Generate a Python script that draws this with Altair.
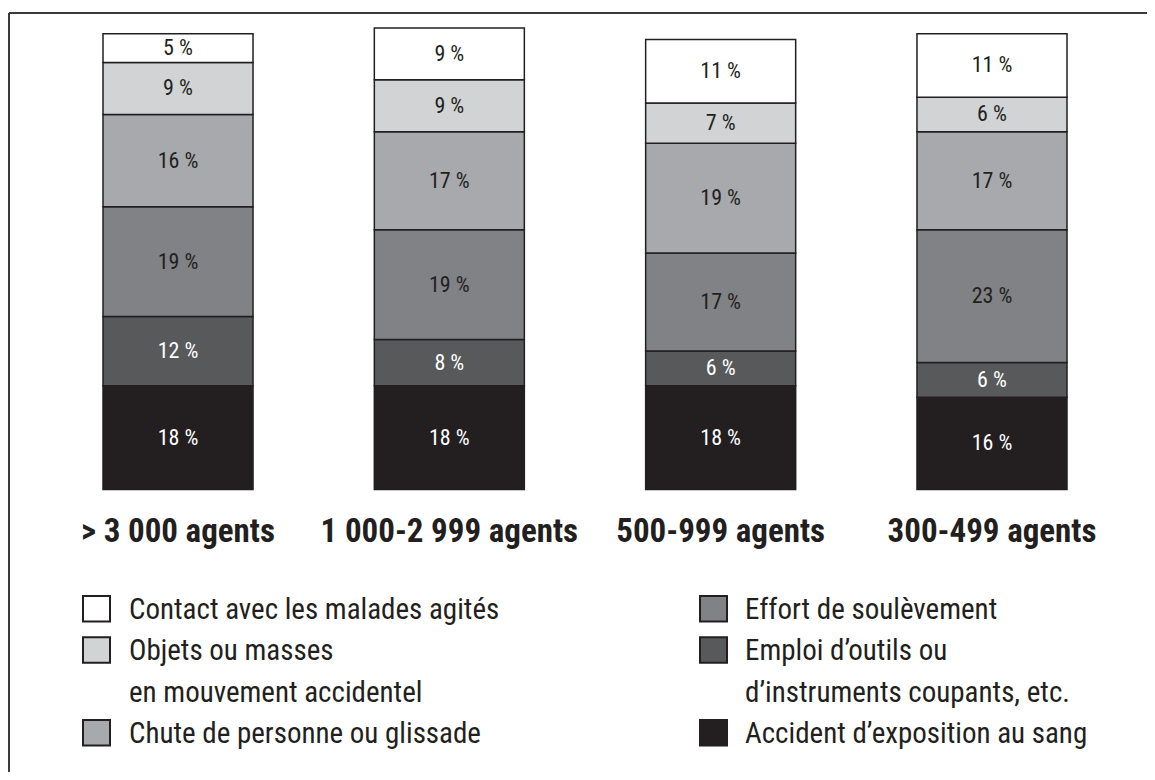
import altair as alt
import pandas as pd

# ---- data ----
sizes = ["> 3 000 agents", "1 000-2 999 agents", "500-999 agents", "300-499 agents"]

# causes, from bottom of the stack to the top
causes = [
    "Accident d’exposition au sang",
    "Emploi d’outils ou\nd’instruments coupants, etc.",
    "Effort de soulèvement",
    "Chute de personne ou glissade",
    "Objets ou masses\nen mouvement accidentel",
    "Contact avec les malades agités",
]
accident = [18, 18, 18, 16]
emploi = [12, 8, 6, 6]
effort = [19, 19, 17, 23]
chute = [16, 17, 19, 17]
objets = [9, 9, 7, 6]
contact = [5, 9, 11, 11]
series = [accident, emploi, effort, chute, objets, contact]

greys = ["#231f20", "#58595b", "#808285", "#a7a9ac", "#d1d3d4", "#ffffff"]

# legend layout: left column / right column, in reading order
legend_left = [causes[5], causes[4], causes[3]]
legend_right = [causes[2], causes[1], causes[0]]

# ---- tables built from the arrays ----
rows = []
for ci, (c, vals) in enumerate(zip(causes, series)):
    for s, v in zip(sizes, vals):
        rows.append({"size": s, "cause": c, "order": ci, "value": v})
bars_df = pd.DataFrame(rows)

leg_sq, leg_txt = [], []
for col, items in enumerate([legend_left, legend_right]):
    line = 0
    for lab in items:
        leg_sq.append({"cause": lab, "col": col, "line": line})
        for part in lab.split("\n"):
            leg_txt.append({"text": part, "col": col, "line": line})
            line += 1
sq_df = pd.DataFrame(leg_sq)
txt_df = pd.DataFrame(leg_txt)
cat_df = pd.DataFrame({"size": sizes})

FONT = "Liberation Sans Narrow, Roboto Condensed, DejaVu Sans Condensed, Roboto, sans-serif"
INK = "#231f20"

xscale = alt.Scale(domain=sizes, range=[95, 1059], paddingInner=0.4471, paddingOuter=0)
yscale = alt.Scale(domain=[0, 83.45], range=[481.5, 0], nice=False, zero=False)
cscale = alt.Scale(domain=causes, range=greys)

base = alt.Chart(bars_df).transform_stack(
    stack="value", groupby=["size"], as_=["y0", "y1"],
    sort=[alt.SortField("order", order="ascending")]
)

bars = base.mark_bar(stroke=INK, strokeWidth=1.5).encode(
    x=alt.X("size:N", scale=xscale, axis=None),
    y=alt.Y("y0:Q", scale=yscale, axis=None),
    y2="y1:Q",
    color=alt.Color("cause:N", scale=cscale, legend=None),
)

labels = base.transform_calculate(
    ymid="(datum.y0 + datum.y1) / 2",
    lab="datum.value + ' %'",
    tcol="datum.order <= 1 ? 'white' : '" + INK + "'",
).mark_text(font=FONT, fontSize=22, baseline="middle", align="center").encode(
    x=alt.X("size:N", scale=xscale, axis=None),
    y=alt.Y("ymid:Q", scale=yscale, axis=None),
    text="lab:N",
    color=alt.Color("tcol:N", scale=None),
)

cats = alt.Chart(cat_df).mark_text(
    font=FONT, fontSize=33, fontWeight="bold", baseline="alphabetic", align="center", color=INK
).encode(
    x=alt.X("size:N", scale=xscale, axis=None),
    y=alt.value(534),
    text="size:N",
)

squares = alt.Chart(sq_df).transform_calculate(
    sx="datum.col == 0 ? 75 : 692",
    sy="588 + datum.line * 41.3",
).transform_calculate(
    sx2="datum.sx + 27",
    sy2="datum.sy + 25.5",
).mark_rect(stroke=INK, strokeWidth=2).encode(
    x=alt.X("sx:Q", scale=None, axis=None),
    x2="sx2:Q",
    y=alt.Y("sy:Q", scale=None, axis=None),
    y2="sy2:Q",
    color=alt.Color("cause:N", scale=cscale, legend=None),
)

leg_text = alt.Chart(txt_df).transform_calculate(
    tx="datum.col == 0 ? 121 : 737",
    ty="611 + datum.line * 41.3",
).mark_text(font=FONT, fontSize=29, baseline="alphabetic", align="left", color=INK).encode(
    x=alt.X("tx:Q", scale=None, axis=None),
    y=alt.Y("ty:Q", scale=None, axis=None),
    text="text:N",
)

frame_top = alt.Chart(cat_df).mark_rule(color="#3a3a3a", strokeWidth=2).encode(
    x=alt.value(1), x2=alt.value(1139), y=alt.value(5)
)
frame_left = alt.Chart(cat_df).mark_rule(color="#3a3a3a", strokeWidth=2).encode(
    x=alt.value(1), y=alt.value(5), y2=alt.value(764)
)

chart = alt.layer(
    frame_top, frame_left, bars, labels, cats, squares, leg_text
).properties(
    width=1139, height=764, padding=0, autosize=alt.AutoSizeParams(type="none"),
    background="white",
).configure_view(stroke=None)

chart.save("out.html", embed_options={"renderer": "svg", "actions": False})
